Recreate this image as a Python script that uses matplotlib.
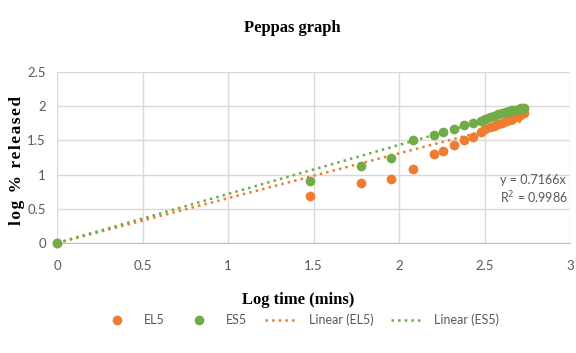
import matplotlib
matplotlib.use("Agg")
from matplotlib import pyplot as plt
import numpy as np

# log time (mins) and log % released
log_time = [0.0, 1.477, 1.778, 1.954, 2.079, 2.204, 2.255, 2.322, 2.380, 2.431,
            2.477, 2.505, 2.531, 2.556, 2.580, 2.602, 2.623, 2.643, 2.663, 2.681,
            2.699, 2.716, 2.732]
el5 = [0.0, 0.69, 0.87, 0.93, 1.08, 1.30, 1.35, 1.43, 1.51, 1.55,
       1.62, 1.66, 1.69, 1.71, 1.74, 1.76, 1.78, 1.80, 1.82, 1.84,
       1.86, 1.88, 1.90]
es5 = [0.0, 0.91, 1.13, 1.24, 1.51, 1.58, 1.63, 1.66, 1.72, 1.76,
       1.79, 1.81, 1.84, 1.86, 1.88, 1.90, 1.91, 1.93, 1.94, 1.95,
       1.96, 1.97, 1.98]

slope_el5 = 0.655
slope_es5 = 0.7166
r2_es5 = 0.9986

orange = '#ED7D31'
green = '#70AD47'
grid_col = '#D9D9D9'
text_col = '#595959'
tick_font = 'Lato'


def plot_peppas():
    fig = plt.figure(figsize=(5.76, 3.53), dpi=100)
    ax = fig.add_axes([57 / 576, 1 - 243 / 353, 513 / 576, 171 / 353])

    ax.plot(log_time, el5, 'o', color=orange, ms=7, mec='none', label='EL5', zorder=3, clip_on=False)
    ax.plot(log_time, es5, 'o', color=green, ms=7, mec='none', label='ES5', zorder=3, clip_on=False)

    xfit = np.array([0, log_time[-1]])
    ax.plot(xfit, slope_el5 * xfit, ':', color=orange, lw=1.8, label='Linear (EL5)', zorder=2)
    ax.plot(xfit, slope_es5 * xfit, ':', color=green, lw=1.8, label='Linear (ES5)', zorder=2)

    ax.set_xlim(0, 3)
    ax.set_ylim(0, 2.5)
    ax.set_xticks([0, 0.5, 1, 1.5, 2, 2.5, 3])
    ax.set_xticklabels(['0', '0.5', '1', '1.5', '2', '2.5', '3'])
    ax.set_yticks([0, 0.5, 1, 1.5, 2, 2.5])
    ax.set_yticklabels(['0', '0.5', '1', '1.5', '2', '2.5'])
    ax.grid(True, color=grid_col, lw=1)
    ax.set_axisbelow(True)
    for s in ['top', 'right', 'left']:
        ax.spines[s].set_visible(False)
    ax.spines['bottom'].set_color('#BFBFBF')
    ax.tick_params(length=0, colors=text_col, labelsize=9.5)
    ax.tick_params(axis='x', pad=12)
    ax.tick_params(axis='y', pad=8)
    for lab in ax.get_xticklabels() + ax.get_yticklabels():
        lab.set_family(tick_font)

    ax.text(2.59, 0.92, 'y = 0.7166x', color=text_col, fontsize=9, family=tick_font, va='center')
    ax.text(2.59, 0.66, f'R$^2$ = {r2_es5}', color=text_col, fontsize=9, family=tick_font, va='center')

    fig.text(292 / 576, 1 - 28 / 353, 'Peppas graph', ha='center', va='center',
             family='Liberation Serif', fontsize=12, fontweight='bold')
    fig.text(298 / 576, 1 - 300 / 353, 'Log time (mins)', ha='center', va='center',
             family='Liberation Serif', fontsize=12, fontweight='bold')
    fig.text(17 / 576, 1 - 160 / 353, '\u200a'.join('log % released'), ha='center', va='center',
             rotation=90, family=['Liberation Serif', 'DejaVu Serif'], fontsize=12.5, fontweight='bold')

    leg = ax.legend(loc='center', bbox_to_anchor=(300 / 513 - 57 / 513, (243 - 320) / 171), ncol=4,
                    frameon=False, prop={'family': tick_font, 'size': 9}, handlelength=2.6,
                    columnspacing=1.4, handletextpad=0.9)
    for t in leg.get_texts():
        t.set_color(text_col)

    fig.savefig('out.png', dpi=100)


if __name__ == '__main__':
    plot_peppas()
